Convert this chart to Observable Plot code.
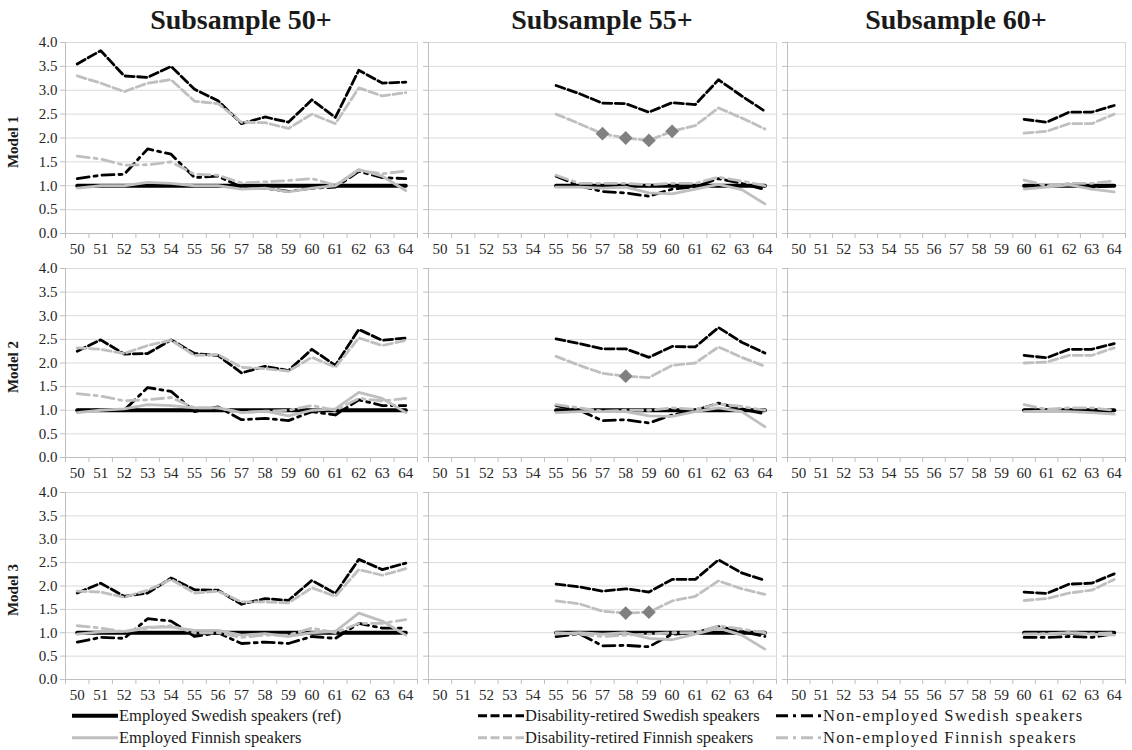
<!DOCTYPE html>
<html><head><meta charset="utf-8">
<script src="https://cdn.jsdelivr.net/npm/d3@7"></script>
<script src="https://cdn.jsdelivr.net/npm/@observablehq/plot@0.6"></script>
<style>
body{margin:0;background:#fff;}
#root{position:relative;width:1132px;height:750px;font-family:"Liberation Serif","Times New Roman",serif;color:#1a1a1a;overflow:hidden;}
.panel{position:absolute;}
.panel svg text{fill:#262626 !important;font-family:"Liberation Serif","Times New Roman",serif !important;font-size:15px !important;}
.title{position:absolute;font-weight:bold;font-size:28px;text-align:center;white-space:nowrap;line-height:1;font-family:"Liberation Serif",serif;}
.rowlab{position:absolute;font-weight:bold;font-size:15px;white-space:nowrap;line-height:1;transform:translate(-50%,-50%) rotate(-90deg);font-family:"Liberation Serif",serif;}
.leg{position:absolute;font-size:16.5px;display:flex;align-items:center;white-space:nowrap;line-height:1;transform:translateY(-50%);font-family:"Liberation Serif",serif;}
.leg svg{display:block;margin-right:1px;}
.leg.c2 span{letter-spacing:1.4px;}
</style></head><body><div id="root"></div>
<script>
// ---------- categories / labels ----------
const ages = [50,51,52,53,54,55,56,57,58,59,60,61,62,63,64];
const yTicks = [0,0.5,1,1.5,2,2.5,3,3.5,4];
const subsamples = ["Subsample 50+","Subsample 55+","Subsample 60+"];
const subStart = [50,55,60];
const models = ["Model 1","Model 2","Model 3"];
const seriesKeys = ["empSwe","drSwe","neSwe","empFin","drFin","neFin"];
const seriesLabels = ["Employed Swedish speakers (ref)","Disability-retired Swedish speakers","Non-employed Swedish speakers",
  "Employed Finnish speakers","Disability-retired Finnish speakers","Non-employed Finnish speakers"];

// ---------- reference group (always 1.0) ----------
const ref_s50 = [1,1,1,1,1,1,1,1,1,1,1,1,1,1,1];
const ref_s55 = [1,1,1,1,1,1,1,1,1,1];
const ref_s60 = [1,1,1,1,1];

// ---------- Model 1 ----------
const m1s50_drSwe = [3.55,3.83,3.30,3.27,3.50,3.02,2.78,2.30,2.44,2.33,2.80,2.43,3.42,3.15,3.17];
const m1s50_drFin = [3.30,3.15,2.97,3.15,3.22,2.77,2.72,2.33,2.32,2.20,2.50,2.30,3.05,2.88,2.95];
const m1s50_neSwe = [1.15,1.22,1.24,1.77,1.66,1.17,1.20,0.97,0.95,0.88,0.95,0.97,1.30,1.17,1.15];
const m1s50_neFin = [1.62,1.56,1.43,1.44,1.50,1.24,1.22,1.06,1.08,1.11,1.15,1.01,1.32,1.25,1.31];
const m1s50_empFin = [0.95,1.00,1.00,1.07,1.05,1.00,1.00,0.93,0.95,0.87,0.95,1.00,1.34,1.20,0.90];
const m1s50_sig = [];

const m1s55_drSwe = [3.10,2.93,2.73,2.72,2.54,2.74,2.70,3.22,2.88,2.56];
const m1s55_drFin = [2.50,2.30,2.09,2.00,1.95,2.14,2.26,2.63,2.42,2.19];
const m1s55_neSwe = [1.20,1.00,0.88,0.85,0.78,0.93,0.98,1.15,1.05,0.92];
const m1s55_neFin = [1.22,1.05,1.05,1.05,1.02,1.05,1.05,1.18,1.10,1.00];
const m1s55_empFin = [0.97,0.97,0.95,0.97,0.85,0.83,0.93,1.03,0.92,0.62];
const m1s55_sig = [57,58,59,60];

const m1s60_drSwe = [2.39,2.33,2.54,2.54,2.68];
const m1s60_drFin = [2.10,2.14,2.30,2.30,2.50];
const m1s60_neSwe = [1.00,1.00,1.02,0.97,1.00];
const m1s60_neFin = [1.12,1.00,1.05,1.05,1.10];
const m1s60_empFin = [0.93,0.97,1.02,0.93,0.87];
const m1s60_sig = [];

// ---------- Model 2 ----------
const m2s50_drSwe = [2.25,2.49,2.19,2.20,2.49,2.20,2.16,1.79,1.93,1.84,2.29,1.95,2.71,2.48,2.53];
const m2s50_drFin = [2.32,2.29,2.20,2.37,2.48,2.16,2.18,1.91,1.88,1.83,2.12,1.91,2.53,2.37,2.48];
const m2s50_neSwe = [1.00,1.00,1.00,1.48,1.40,0.97,1.07,0.80,0.83,0.78,0.97,0.90,1.22,1.10,1.10];
const m2s50_neFin = [1.35,1.30,1.20,1.22,1.27,1.05,1.05,0.95,0.98,1.00,1.10,1.00,1.25,1.20,1.25];
const m2s50_empFin = [0.95,1.00,1.03,1.12,1.10,1.05,1.05,0.95,0.98,0.88,1.00,1.03,1.38,1.25,0.95];
const m2s50_sig = [];

const m2s55_drSwe = [2.51,2.41,2.30,2.30,2.12,2.35,2.34,2.75,2.44,2.21];
const m2s55_drFin = [2.14,1.95,1.78,1.72,1.69,1.95,2.00,2.34,2.12,1.93];
const m2s55_neSwe = [1.10,1.00,0.78,0.80,0.73,0.90,1.00,1.15,1.03,0.92];
const m2s55_neFin = [1.12,1.05,0.98,1.00,1.00,1.05,1.02,1.13,1.08,1.00];
const m2s55_empFin = [0.95,0.97,0.97,0.97,0.88,0.87,0.97,1.05,0.97,0.65];
const m2s55_sig = [58];

const m2s60_drSwe = [2.16,2.11,2.29,2.29,2.41];
const m2s60_drFin = [2.00,2.02,2.16,2.16,2.32];
const m2s60_neSwe = [1.00,1.00,1.00,1.00,0.98];
const m2s60_neFin = [1.12,1.02,1.05,1.05,1.00];
const m2s60_empFin = [0.97,0.98,0.97,0.95,0.92];
const m2s60_sig = [];

// ---------- Model 3 ----------
const m3s50_drSwe = [1.85,2.06,1.78,1.85,2.17,1.92,1.91,1.61,1.73,1.69,2.12,1.84,2.57,2.35,2.49];
const m3s50_drFin = [1.89,1.87,1.76,1.91,2.14,1.85,1.89,1.66,1.66,1.64,1.96,1.78,2.35,2.23,2.37];
const m3s50_neSwe = [0.80,0.90,0.88,1.30,1.25,0.92,1.00,0.77,0.80,0.77,0.92,0.88,1.20,1.10,1.10];
const m3s50_neFin = [1.15,1.10,1.02,1.10,1.15,1.00,1.00,0.90,0.95,0.95,1.10,1.00,1.20,1.20,1.28];
const m3s50_empFin = [0.97,1.02,1.03,1.12,1.12,1.05,1.05,0.95,0.98,0.92,1.00,1.03,1.42,1.25,0.95];
const m3s50_sig = [];

const m3s55_drSwe = [2.04,1.98,1.89,1.94,1.87,2.14,2.14,2.56,2.28,2.12];
const m3s55_drFin = [1.68,1.62,1.46,1.42,1.44,1.68,1.78,2.11,1.94,1.82];
const m3s55_neSwe = [0.92,0.98,0.72,0.73,0.70,0.97,1.00,1.13,1.03,0.92];
const m3s55_neFin = [1.00,0.97,0.92,0.95,0.97,1.00,1.00,1.15,1.08,1.00];
const m3s55_empFin = [0.97,1.00,0.97,1.00,0.88,0.85,0.97,1.10,0.95,0.65];
const m3s55_sig = [58,59];

const m3s60_drSwe = [1.87,1.84,2.04,2.06,2.26];
const m3s60_drFin = [1.69,1.73,1.85,1.91,2.14];
const m3s60_neSwe = [0.90,0.90,0.92,0.90,0.98];
const m3s60_neFin = [0.97,0.98,1.00,0.98,1.00];
const m3s60_empFin = [0.97,0.97,1.00,0.97,0.95];
const m3s60_sig = [];

// ---------- assemble lookup (built from the arrays above) ----------
const refBySub = [ref_s50, ref_s55, ref_s60];
const panelData = [
  [
    {drSwe:m1s50_drSwe, drFin:m1s50_drFin, neSwe:m1s50_neSwe, neFin:m1s50_neFin, empFin:m1s50_empFin, sig:m1s50_sig},
    {drSwe:m1s55_drSwe, drFin:m1s55_drFin, neSwe:m1s55_neSwe, neFin:m1s55_neFin, empFin:m1s55_empFin, sig:m1s55_sig},
    {drSwe:m1s60_drSwe, drFin:m1s60_drFin, neSwe:m1s60_neSwe, neFin:m1s60_neFin, empFin:m1s60_empFin, sig:m1s60_sig}
  ],
  [
    {drSwe:m2s50_drSwe, drFin:m2s50_drFin, neSwe:m2s50_neSwe, neFin:m2s50_neFin, empFin:m2s50_empFin, sig:m2s50_sig},
    {drSwe:m2s55_drSwe, drFin:m2s55_drFin, neSwe:m2s55_neSwe, neFin:m2s55_neFin, empFin:m2s55_empFin, sig:m2s55_sig},
    {drSwe:m2s60_drSwe, drFin:m2s60_drFin, neSwe:m2s60_neSwe, neFin:m2s60_neFin, empFin:m2s60_empFin, sig:m2s60_sig}
  ],
  [
    {drSwe:m3s50_drSwe, drFin:m3s50_drFin, neSwe:m3s50_neSwe, neFin:m3s50_neFin, empFin:m3s50_empFin, sig:m3s50_sig},
    {drSwe:m3s55_drSwe, drFin:m3s55_drFin, neSwe:m3s55_neSwe, neFin:m3s55_neFin, empFin:m3s55_empFin, sig:m3s55_sig},
    {drSwe:m3s60_drSwe, drFin:m3s60_drFin, neSwe:m3s60_neSwe, neFin:m3s60_neFin, empFin:m3s60_empFin, sig:m3s60_sig}
  ]
];

// ---------- styles ----------
const GREY = "#bfbfbf";
const styles = {
  empSwe: {stroke:"#000", strokeWidth:4, dash:null},
  drSwe:  {stroke:"#000", strokeWidth:2.8, dash:"9,3.5"},
  neSwe:  {stroke:"#000", strokeWidth:2.8, dash:"12,5,3,5"},
  empFin: {stroke:GREY, strokeWidth:2.8, dash:null},
  drFin:  {stroke:GREY, strokeWidth:2.8, dash:"9,3.5"},
  neFin:  {stroke:GREY, strokeWidth:2.8, dash:"12,5,3,5"}
};

// ---------- layout ----------
const colLeft = [65, 428, 787], colWidth = [352, 348, 338];
const rowTop = [42, 268, 492], rowHeight = [191, 189, 187];

const root = document.getElementById("root");
const xMin = ages[0] - 0.5, xMax = ages[ages.length - 1] + 0.5;
const boundaries = [xMin, ...ages.map(a => a + 0.5)];

for (let r = 0; r < 3; r++) {
  for (let c = 0; c < 3; c++) {
    const d = panelData[r][c];
    const vals = {empSwe: refBySub[c], ...d};
    const rows = [];
    for (const k of seriesKeys) {
      vals[k].forEach((v, i) => rows.push({series:k, age: subStart[c] + i, value: v}));
    }
    const sigRows = d.sig.map(a => ({age:a, value: d.drFin[a - subStart[c]]}));
    const mL = c === 0 ? 40 : 8, mR = 4, mT = 4, mB = 32;
    const lineMarks = seriesKeys.map(k => Plot.line(rows.filter(o => o.series === k), {
      x:"age", y:"value", stroke: styles[k].stroke, strokeWidth: styles[k].strokeWidth,
      strokeDasharray: styles[k].dash, strokeLinejoin:"round"
    }));
    const plot = Plot.plot({
      width: colWidth[c] + mL + mR,
      height: rowHeight[r] + mT + mB,
      marginLeft: mL, marginRight: mR, marginTop: mT, marginBottom: mB,
      style: {color: GREY, background: "transparent", overflow: "visible",
              fontFamily: "Liberation Serif, Times New Roman, serif", fontSize: "15px"},
      x: {domain:[xMin, xMax], ticks: boundaries, tickSize: 5, tickFormat: () => "", label: null},
      y: {domain:[0, 4], ticks: yTicks, tickSize: 5, tickPadding: 3,
          tickFormat: c === 0 ? (v => v.toFixed(1)) : (() => ""), label: null},
      marks: [
        Plot.ruleY(yTicks.filter(t => t > 0), {stroke:"#d9d9d9", strokeWidth:1}),
        Plot.ruleX([xMax], {stroke:"#d9d9d9"}),
        Plot.ruleX([xMin], {stroke:GREY}),
        Plot.ruleY([0], {stroke:GREY}),
        ...lineMarks,
        Plot.dot(sigRows, {x:"age", y:"value", symbol:"diamond2", r:6.2, fill:"#808080", stroke:"none"}),
        Plot.text(ages, {x: a => a, frameAnchor:"bottom", dy: 20, text: a => String(a), fill:"#262626",
          fontFamily:"Liberation Serif", fontSize: 15})
      ]
    });
    const div = document.createElement("div");
    div.className = "panel";
    div.style.left = (colLeft[c] - mL) + "px";
    div.style.top = (rowTop[r] - mT) + "px";
    div.appendChild(plot);
    root.appendChild(div);
  }
}

// titles
subsamples.forEach((t, c) => {
  const el = document.createElement("div");
  el.className = "title";
  el.textContent = t;
  el.style.left = colLeft[c] + "px";
  el.style.width = colWidth[c] + "px";
  el.style.top = "6px";
  root.appendChild(el);
});
// row labels
models.forEach((m, r) => {
  const el = document.createElement("div");
  el.className = "rowlab";
  el.textContent = m;
  el.style.left = "13px";
  el.style.top = (rowTop[r] + rowHeight[r] / 2 + 4) + "px";
  root.appendChild(el);
});
// legend
const legX = [72, 478, 776], legY = [716, 738];
seriesKeys.forEach((k, i) => {
  const col = i % 3, row = Math.floor(i / 3);
  const s = styles[k];
  const el = document.createElement("div");
  el.className = "leg c" + col;
  el.style.left = legX[col] + "px";
  el.style.top = legY[row] + "px";
  el.innerHTML = `<svg width="46" height="8"><line x1="0" y1="4" x2="46" y2="4" stroke="${s.stroke}" stroke-width="${s.strokeWidth}" ${s.dash ? `stroke-dasharray="${s.dash}"` : ""}/></svg><span>${seriesLabels[i]}</span>`;
  root.appendChild(el);
});
</script></body></html>
